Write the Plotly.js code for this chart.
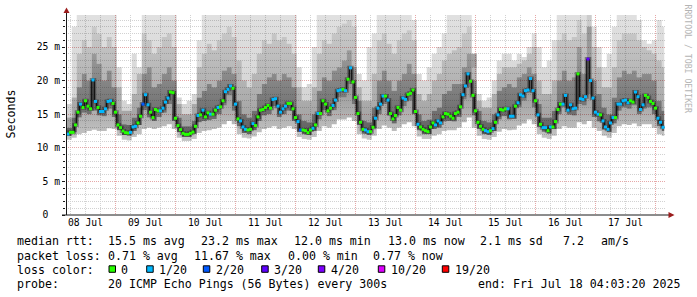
<!DOCTYPE html>
<html><head><meta charset="utf-8">
<script src="https://cdn.plot.ly/plotly-3.0.1.min.js"></script>
<style>html,body{margin:0;padding:0;background:#fff}#chart{width:697px;height:297px}</style>
</head><body><div id="chart"></div>
<script>
// ---- data (hourly median RTT in ms, starting 2025-07-08 05:00) ----
const medianRtt = [
12.05,12.3,12.3,13.4,15.3,16.5,16.0,17.0,16.2,15.8,20.1,16.9,16.0,15.4,15.4,15.8,16.9,17.0,16.6,15.3,
13.4,13.0,12.5,12.25,12.2,12.3,13.1,13.2,13.7,14.7,16.5,17.9,16.4,15.3,14.5,15.7,15.5,15.5,15.9,16.8,
17.4,18.3,18.2,14.4,13.3,12.7,12.15,12.0,12.0,12.15,12.35,13.2,14.8,14.9,15.6,14.6,15.2,15.0,15.0,15.6,
16.0,16.1,17.0,18.35,18.7,19.2,18.85,16.5,14.3,14.0,13.1,12.75,12.65,12.75,13.6,13.3,14.6,15.6,15.7,16.0,
16.3,15.9,17.2,17.3,16.2,15.3,15.8,16.2,16.6,16.6,15.8,14.5,13.9,12.65,12.65,12.55,12.25,12.65,12.9,13.4,
15.1,15.1,17.0,16.5,15.5,15.9,16.3,17.1,18.5,18.6,18.7,18.5,20.2,21.9,19.8,17.5,15.1,13.8,12.75,12.65,
12.4,12.4,13.05,14.4,15.9,16.5,17.7,17.7,17.1,15.1,14.3,14.8,16.0,15.6,17.4,17.2,17.95,18.1,18.6,15.4,
13.5,13.1,12.75,12.55,12.4,13.1,13.7,13.4,14.0,13.7,14.6,15.1,15.0,14.7,14.4,15.1,15.3,16.1,17.9,19.2,
21.0,19.9,17.8,15.5,13.8,13.2,12.75,12.55,12.4,12.55,12.85,13.8,14.9,15.7,15.6,15.8,15.8,14.7,14.7,16.2,
16.7,17.9,17.7,18.5,18.6,20.3,18.5,17.0,14.9,13.5,13.0,13.0,12.55,13.1,13.1,13.9,15.7,16.5,16.5,17.8,
15.6,16.4,15.8,15.9,21.0,17.3,17.2,17.6,23.2,20.0,17.4,15.3,15.0,14.9,14.0,13.1,12.75,13.7,14.5,14.5,
16.5,16.5,17.0,17.1,16.7,17.0,16.8,18.3,17.6,15.7,16.4,17.8,17.5,16.9,16.6,15.9,14.4,13.8,13.05
];
// lost pings out of 20 for each hourly median
const lossCount = [
1,0,0,0,0,1,0,0,0,0,1,1,0,1,1,1,1,1,0,0,
0,0,0,0,0,1,1,1,0,0,2,1,1,0,0,0,0,1,1,1,
1,0,0,0,0,0,0,0,0,0,0,0,1,0,1,0,0,1,0,0,
1,0,0,1,1,1,0,1,0,1,1,1,0,0,1,0,0,0,0,0,
0,0,1,1,1,1,1,1,0,0,0,0,1,2,0,0,0,0,1,0,
1,0,0,0,0,0,1,1,1,1,0,1,0,1,0,0,0,0,0,1,
1,0,0,1,1,1,1,0,1,0,0,0,0,0,1,1,0,0,0,0,
1,0,0,0,0,0,0,1,1,1,0,0,0,0,0,0,0,0,1,1,
1,0,0,0,0,0,0,1,1,0,1,0,1,0,0,0,1,1,1,0,
1,1,1,1,1,1,1,0,1,0,1,1,0,1,0,0,0,0,1,1,
1,1,1,1,0,1,1,1,3,1,1,1,1,0,1,1,1,1,1,0,
1,1,1,1,1,0,0,1,1,1,1,0,0,0,0,0,1,1,1
];
// smoke (2-hour columns): lowest ping, below-median, top of dark core, top of mid grey, highest ping (ms)
const smokeLow = [
11.2,11.5,12.0,12.2,12.5,12.7,12.5,12.5,12.9,12.8, 11.8,11.2,11.1,11.6,12.0,12.8,13.0,12.8,13.0,13.2,
13.5,12.8,11.5,11.0,11.0,11.3,12.2,12.5,12.6,12.8, 13.0,13.5,14.0,13.5,12.0,11.5,11.4,11.7,12.3,12.8,
13.0,13.2,12.8,13.0,13.2,12.8,11.6,11.3,11.2,11.6, 12.5,13.2,13.0,13.5,14.2,14.2,14.5,14.0,12.0,11.4,
11.2,11.8,12.8,13.3,13.0,12.5,13.0,13.5,13.8,13.2, 11.7,11.3,11.3,11.8,12.0,12.5,12.6,12.6,13.0,13.8,
14.5,13.0,11.8,11.3,11.2,11.6,12.4,12.8,12.6,12.7, 13.3,13.6,14.2,13.5,12.0,11.5,11.3,11.8,12.8,13.2,
13.0,13.0,13.8,13.5,14.0,13.0,12.5,11.8,11.5,12.2, 13.2,13.5,13.4,13.6,13.2,13.5,13.5,13.0,12.0,11.8
];
const smokeLowMid = [
11.8,12.3,14.5,15.2,15.0,15.5,14.8,14.7,15.8,14.6, 12.6,11.9,11.8,12.5,13.4,15.6,14.5,14.0,14.6,15.2,
16.5,14.0,12.3,11.6,11.6,12.1,13.8,14.0,14.1,14.3, 15.0,16.3,17.8,15.5,13.2,12.2,12.0,12.6,14.0,14.8,
15.0,16.2,14.6,15.0,15.5,14.0,12.4,12.0,11.9,12.5, 14.2,15.6,14.7,15.6,17.5,17.5,19.5,16.5,13.4,12.1,
11.9,12.9,15.0,16.5,14.8,13.6,14.8,16.2,17.0,15.0, 12.6,12.0,12.0,12.8,13.0,13.9,14.0,13.9,14.6,17.2,
19.0,14.8,12.8,12.0,11.9,12.5,14.2,14.7,14.2,14.3, 16.0,17.0,18.2,16.0,13.1,12.4,12.1,12.8,15.0,16.0,
14.9,14.8,16.5,16.3,18.0,14.6,13.9,12.7,12.3,13.6, 15.5,16.0,15.8,16.3,15.0,15.8,16.0,15.0,13.2,12.5
];
const smokeUpMid = [
13.0,14.5,19.0,21.0,20.0,24.0,22.5,20.0,21.5,19.0, 15.0,13.5,13.4,14.5,16.0,21.0,22.0,19.0,19.5,21.0,
22.0,20.0,14.5,13.2,13.2,14.0,17.5,18.5,19.5,19.0, 20.0,21.5,22.0,21.0,17.0,15.0,14.5,15.5,18.0,19.5,
20.5,21.0,20.0,21.0,20.5,19.0,15.0,14.0,13.8,15.0, 18.5,20.5,20.0,21.5,22.0,23.0,24.5,22.0,17.0,14.0,
13.8,16.0,20.0,21.5,20.0,18.5,20.0,21.0,22.5,21.0, 15.0,14.0,14.2,15.5,16.0,18.0,18.5,19.5,19.5,22.0,
24.0,20.0,15.5,14.0,13.8,15.0,18.5,19.0,19.5,19.0, 20.5,21.0,22.0,21.0,16.5,14.5,14.5,15.5,20.0,21.5,
20.0,20.5,25.0,21.0,28.0,20.0,18.0,16.0,15.0,17.5, 20.5,21.5,21.0,21.5,20.5,21.0,21.0,20.0,17.0,15.5
];
const smokeHigh = [
14.5,17.5,24.0,26.0,25.0,28.0,27.0,25.0,26.5,25.0, 19.0,15.5,15.5,18.0,21.0,27.0,26.0,24.0,25.0,26.5,
27.0,25.0,16.5,15.0,15.0,16.5,22.0,24.0,25.5,24.5, 26.0,27.0,28.0,26.5,23.0,20.0,19.0,21.0,24.0,26.0,
25.5,27.0,26.0,26.5,25.5,24.0,19.0,17.0,17.0,19.0, 24.0,26.0,25.5,27.0,28.0,28.5,29.0,28.0,19.0,17.0,
17.0,21.0,26.0,27.0,25.5,24.0,26.0,27.0,27.5,26.0, 18.0,17.0,18.0,20.0,21.0,23.0,24.0,24.5,25.0,27.0,
28.0,24.0,17.0,16.0,16.0,18.0,21.0,22.0,22.0,22.0, 22.5,23.0,24.0,25.0,20.0,18.0,18.0,20.0,26.0,27.0,
26.0,26.5,29.0,27.0,30.0,25.0,22.0,19.0,19.0,22.0, 26.0,27.0,27.0,27.0,26.0,25.0,24.5,24.0,23.0,22.0
];
const smokeTop = [
16.5,28.0,30.5,30.5,30.5,30.5,30.5,30.5,30.5,30.5, 22.0,17.0,16.5,24.0,22.0,30.5,30.5,30.5,30.5,30.5,
30.5,30.5,17.5,16.5,17.0,18.0,26.0,30.5,30.5,30.5, 30.5,30.5,30.5,30.5,30.5,30.5,30.5,30.5,30.5,30.5,
30.5,30.5,30.5,30.5,30.5,30.5,22.0,19.0,19.5,25.0, 30.5,30.5,30.5,30.5,30.5,30.5,30.5,30.5,21.0,20.0,
25.0,27.0,30.5,30.5,30.5,30.5,30.5,30.5,30.5,29.0, 21.0,20.0,22.0,24.0,25.0,27.0,30.5,30.5,30.5,30.5,
30.5,22.0,18.0,17.0,17.5,20.0,23.0,24.0,24.0,23.0, 24.0,23.5,25.0,27.0,25.0,22.0,23.0,26.0,30.5,30.5,
30.5,30.5,30.5,30.5,30.5,28.0,25.0,22.0,24.0,28.0, 30.5,30.5,30.5,30.5,29.0,26.0,25.5,26.0,29.0,28.0
];
const yTickValues = [0, 5, 10, 15, 20, 25];
const yTickLabels = ['0\u00a0\u00a0', '5 m', '10 m', '15 m', '20 m', '25 m'];
const lossLevels = [0, 1, 2, 3, 4, 10, 19];
const lossColors = ['#26ff00', '#00b8ff', '#0059ff', '#5e00ff', '#7e00ff', '#dd00ff', '#ff0000'];
const lossLabels = ['0', '1/20', '2/20', '3/20', '4/20', '10/20', '19/20'];
const rttStats = ['15.5 ms avg', '23.2 ms max', '12.0 ms min', '13.0 ms now', '2.1 ms sd', '7.2', 'am/s'];
const lossStats = ['0.71 % avg', '11.67 % max', '0.00 % min', '0.77 % now'];
const probeText = '20 ICMP Echo Pings (56 Bytes) every 300s';
const endText = 'end: Fri Jul 18 04:03:20 2025';

// ---- helpers ----
const HOUR = 3600e3;
const t0 = Date.UTC(2025, 6, 8, 5, 0, 0);
function fmt(ms) {
  const d = new Date(ms), p = n => String(n).padStart(2, '0');
  return d.getUTCFullYear() + '-' + p(d.getUTCMonth() + 1) + '-' + p(d.getUTCDate()) + ' ' +
    p(d.getUTCHours()) + ':' + p(d.getUTCMinutes()) + ':' + p(d.getUTCSeconds());
}
const n = medianRtt.length;
const ext = a => a.concat([a[a.length - 1]]);
const medianTimes = medianRtt.map((_, i) => fmt(t0 + i * HOUR));
const stepTimes = ext(medianRtt).map((_, i) => fmt(t0 + (i - 0.5) * HOUR));
const smokeTimes = smokeLow.map((_, k) => fmt(t0 + (2 * k - 0.5) * HOUR)).concat([fmt(t0 + (n - 0.5) * HOUR)]);

// layout geometry
const L = 66, T = 15, W = 600, H = 200;
const px = x => (x - L) / W, py = y => (T + H - y) / H;
const MONO = 'DejaVu Sans Mono';

// smoke bands: vertical grey gradients (darker near the median, lighter towards the outer pings)
const bandStyle = [
  null,
  { start: 11, stop: 20, scale: [[0, 'rgba(0,0,0,0.22)'], [1, 'rgba(0,0,0,0.42)']] },
  { start: 12, stop: 24, scale: [[0, 'rgba(0,0,0,0.62)'], [1, 'rgba(0,0,0,0.40)']] },
  { start: 14, stop: 29, scale: [[0, 'rgba(0,0,0,0.36)'], [1, 'rgba(0,0,0,0.20)']] },
  { start: 16, stop: 30, scale: [[0, 'rgba(0,0,0,0.17)'], [1, 'rgba(0,0,0,0.12)']] }
];
const traces = [smokeLow, smokeLowMid, smokeUpMid, smokeHigh, smokeTop].map((s, j) => {
  const tr = { type: 'scatter', mode: 'lines', x: smokeTimes, y: ext(s),
    line: { width: 0, shape: 'hv' }, hoverinfo: 'skip', showlegend: false };
  if (j > 0) {
    tr.fill = 'tonexty';
    tr.fillgradient = { type: 'vertical', start: bandStyle[j].start, stop: bandStyle[j].stop, colorscale: bandStyle[j].scale };
  }
  return tr;
});
// darkest smoke right around the median
traces.push({
  type: 'scatter', mode: 'lines', x: stepTimes, y: ext(medianRtt),
  line: { color: 'rgba(0,0,0,0.35)', width: 4, shape: 'hv' }, hoverinfo: 'skip', showlegend: false
});
traces.push({
  type: 'scatter', mode: 'lines', x: stepTimes, y: ext(medianRtt),
  line: { color: '#000', width: 1, shape: 'hv' }, hoverinfo: 'skip', showlegend: false
});
traces.push({
  type: 'scatter', mode: 'markers', x: medianTimes, y: medianRtt,
  marker: { symbol: 'square', size: 3, line: { width: 0 },
    color: lossCount.map(c => lossColors[lossLevels.indexOf(c)]) },
  hoverinfo: 'skip', showlegend: false
});

const txt = (text, x, y, extra) => Object.assign({
  text: text, xref: 'paper', yref: 'paper', x: px(x), y: py(y), xanchor: 'left', yanchor: 'middle',
  showarrow: false, borderpad: 0, font: { family: MONO, size: 11.6, color: '#000' }
}, extra || {});

const annotations = [];
annotations.push(txt('Seconds', 10.5, 114, { xanchor: 'center', textangle: -90 }));
annotations.push(txt('RRDTOOL / TOBI OETIKER', 687.5, 59, { xanchor: 'center', textangle: 90,
  font: { family: MONO, size: 8.2, color: '#b4b4b4' } }));
const row = [241, 255.5, 269.5, 283.8];
annotations.push(txt('median rtt:', 16, row[0]));
[107.3, 200, 293.3, 386.7, 479.3, 561.7, 600].forEach((x, i) => annotations.push(txt(rttStats[i], x, row[0])));
annotations.push(txt('packet loss:', 16, row[1]));
[107.3, 193.3, 286.7, 372.3].forEach((x, i) => annotations.push(txt(lossStats[i], x, row[1])));
annotations.push(txt('loss color:', 16, row[2]));
const boxX = [109, 146.7, 203.3, 261.7, 318.3, 378.3, 442.3];
const labelX = [120, 158.3, 215, 273.3, 330, 390, 454];
const shapes = [];
lossLabels.forEach((lab, i) => {
  annotations.push(txt(lab, labelX[i], row[2]));
  shapes.push({ type: 'rect', xref: 'paper', yref: 'paper', x0: px(boxX[i]), x1: px(boxX[i] + 6.5),
    y0: py(272.3), y1: py(265.8), fillcolor: lossColors[i], line: { color: '#000', width: 1 } });
});
annotations.push(txt('probe:', 16, row[3]));
annotations.push(txt(probeText, 107.3, row[3]));
annotations.push(txt(endText, 680.5, row[3], { xanchor: 'right' }));

// axes and arrows
const axisCol = '#1a1a1a', arrowCol = '#9b1c1c';
shapes.push({ type: 'line', xref: 'paper', yref: 'paper', x0: px(66.5), x1: px(66.5), y0: py(215), y1: py(12), line: { color: axisCol, width: 1 } });
shapes.push({ type: 'line', xref: 'paper', yref: 'paper', x0: px(62), x1: px(670), y0: py(215), y1: py(215), line: { color: axisCol, width: 1 } });
shapes.push({ type: 'path', xref: 'paper', yref: 'paper', fillcolor: arrowCol, line: { width: 0 },
  path: `M ${px(63.5)} ${py(13)} L ${px(69.5)} ${py(13)} L ${px(66.5)} ${py(7.5)} Z` });
shapes.push({ type: 'path', xref: 'paper', yref: 'paper', fillcolor: arrowCol, line: { width: 0 },
  path: `M ${px(668.5)} ${py(212)} L ${px(668.5)} ${py(218)} L ${px(674.5)} ${py(215)} Z` });

const majorGrid = '#e6a8a8', minorGrid = '#d2d2d2';
const layout = {
  width: 697, height: 297, margin: { l: L, r: 697 - L - W, t: T, b: 297 - T - H, pad: 0 },
  paper_bgcolor: '#fff', plot_bgcolor: '#fff', showlegend: false,
  font: { family: MONO, color: '#000' },
  xaxis: {
    type: 'date', range: ['2025-07-08 04:12:00', '2025-07-18 04:12:00'],
    tick0: '2025-07-08 00:00:00', dtick: 86400000, tickformat: '%d %b', ticklabelmode: 'period',
    ticks: '', showline: false, zeroline: false,
    showgrid: true, gridcolor: majorGrid, griddash: '1px,1px', gridwidth: 1,
    minor: { dtick: 21600000, showgrid: true, gridcolor: minorGrid, griddash: '1px,1px', gridwidth: 1 },
    tickfont: { family: MONO, size: 9.7, color: '#000' }, fixedrange: true
  },
  yaxis: {
    range: [0, H / 6.72], tickmode: 'array', tickvals: yTickValues, ticktext: yTickLabels,
    ticks: 'outside', ticklen: 3, tickcolor: axisCol, showline: false, zeroline: false,
    showgrid: true, gridcolor: majorGrid, griddash: '1px,1px', gridwidth: 1,
    minor: { dtick: 1, showgrid: true, gridcolor: minorGrid, griddash: '1px,1px', gridwidth: 1, ticks: 'outside', ticklen: 2, tickcolor: axisCol },
    tickfont: { family: MONO, size: 9.7, color: '#000' }, fixedrange: true
  },
  annotations: annotations, shapes: shapes
};
Plotly.newPlot('chart', traces, layout, { displayModeBar: false, staticPlot: true });
</script></body></html>
